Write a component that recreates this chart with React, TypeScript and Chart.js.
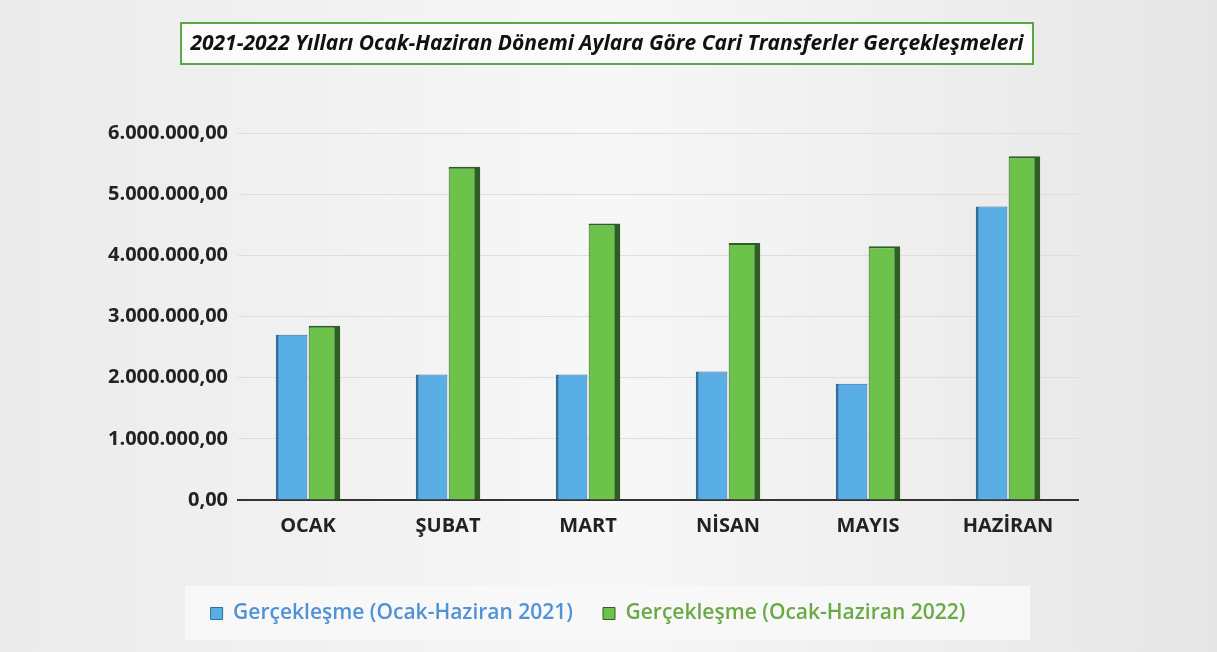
import React, { useEffect, useRef } from "react";
import { Chart, registerables } from "chart.js";

Chart.register(...registerables);

const categories = ["OCAK", "ŞUBAT", "MART", "NİSAN", "MAYIS", "HAZİRAN"];
const series2021 = [2700000, 2050000, 2050000, 2100000, 1900000, 4800000];
const series2022 = [2850000, 5450000, 4520000, 4200000, 4150000, 5620000];
const seriesNames = ["Gerçekleşme (Ocak-Haziran 2021)", "Gerçekleşme (Ocak-Haziran 2022)"];
const titleText = "2021-2022 Yılları Ocak-Haziran Dönemi Aylara Göre Cari Transferler Gerçekleşmeleri";

function fmt(v: number): string {
  const s = Math.round(v).toString().replace(/\B(?=(\d{3})+(?!\d))/g, ".");
  return s + ",00";
}

const decorPlugin = {
  id: "decor",
  beforeDraw(chart: any) {
    const ctx = chart.ctx;
    ctx.save();
    const g = ctx.createLinearGradient(0, 0, chart.width, 0);
    g.addColorStop(0, "#ebebeb");
    g.addColorStop(0.5, "#f7f7f7");
    g.addColorStop(1, "#e6e6e6");
    ctx.fillStyle = g;
    ctx.fillRect(0, 0, chart.width, chart.height);
    // legend band
    ctx.fillStyle = "#f8f8f8";
    ctx.fillRect(185, 586, 845, 54);
    // title box
    ctx.fillStyle = "#fbfbfb";
    ctx.fillRect(181, 23, 852, 41);
    ctx.strokeStyle = "#5aa845";
    ctx.lineWidth = 2;
    ctx.strokeRect(181, 23, 852, 41);
    ctx.fillStyle = "#111";
    ctx.font = "italic bold 21px 'Open Sans', sans-serif";
    ctx.textAlign = "center";
    ctx.textBaseline = "middle";
    ctx.fillText(titleText, 607, 44);
    ctx.restore();
  },
};

export default function App() {
  const ref = useRef<HTMLCanvasElement | null>(null);
  useEffect(() => {
    document.body.style.margin = "0";
    const chart = new Chart(ref.current as HTMLCanvasElement, {
      type: "bar",
      data: {
        labels: categories,
        datasets: [
          {
            label: seriesNames[0],
            data: series2021,
            backgroundColor: "#5aaee6",
            borderColor: "#2f6f9e",
            borderWidth: { left: 3, right: 1, top: 1, bottom: 0 },
          },
          {
            label: seriesNames[1],
            data: series2022,
            backgroundColor: "#6cc24a",
            borderColor: "#2e5e24",
            borderWidth: { left: 1, right: 6, top: 2, bottom: 0 },
          },
        ],
      },
      options: {
        animation: false,
        responsive: true,
        maintainAspectRatio: false,
        layout: { padding: { top: 133, left: 98, right: 139, bottom: 18 } },
        datasets: { bar: { categoryPercentage: 0.47, barPercentage: 0.96 } } as any,
        plugins: {
          title: { display: false },
          legend: {
            position: "bottom",
            labels: {
              boxWidth: 12,
              boxHeight: 12,
              padding: 30,
              font: { family: "'Open Sans', sans-serif", size: 21, weight: 600 as any },
              generateLabels: (c: any) => {
                const colors = ["#4f92d6", "#6aaa45"];
                return c.data.datasets.map((d: any, i: number) => ({
                  text: d.label,
                  fillStyle: d.backgroundColor,
                  strokeStyle: d.borderColor,
                  lineWidth: 1,
                  fontColor: colors[i],
                  datasetIndex: i,
                  hidden: false,
                }));
              },
            },
          },
          tooltip: { enabled: false },
        },
        scales: {
          x: {
            grid: { display: false, drawTicks: false },
            border: { display: true, color: "#333", width: 2 },
            afterFit: (axis: any) => {
              axis.height = 73;
            },
            ticks: {
              color: "#222",
              padding: 14,
              font: { family: "'Open Sans', sans-serif", size: 20, weight: "bold" },
            },
          },
          y: {
            min: 0,
            max: 6000000,
            grid: { color: "#dedede", drawTicks: false },
            border: { display: false },
            ticks: {
              stepSize: 1000000,
              color: "#222",
              padding: 10,
              font: { family: "'Open Sans', sans-serif", size: 20, weight: "bold" },
              callback: (v: any) => fmt(Number(v)),
            },
          },
        },
      },
      plugins: [decorPlugin],
    });
    return () => chart.destroy();
  }, []);
  return (
    <div style={{ width: 1217, height: 652, position: "relative" }}>
      <canvas ref={ref} />
    </div>
  );
}
